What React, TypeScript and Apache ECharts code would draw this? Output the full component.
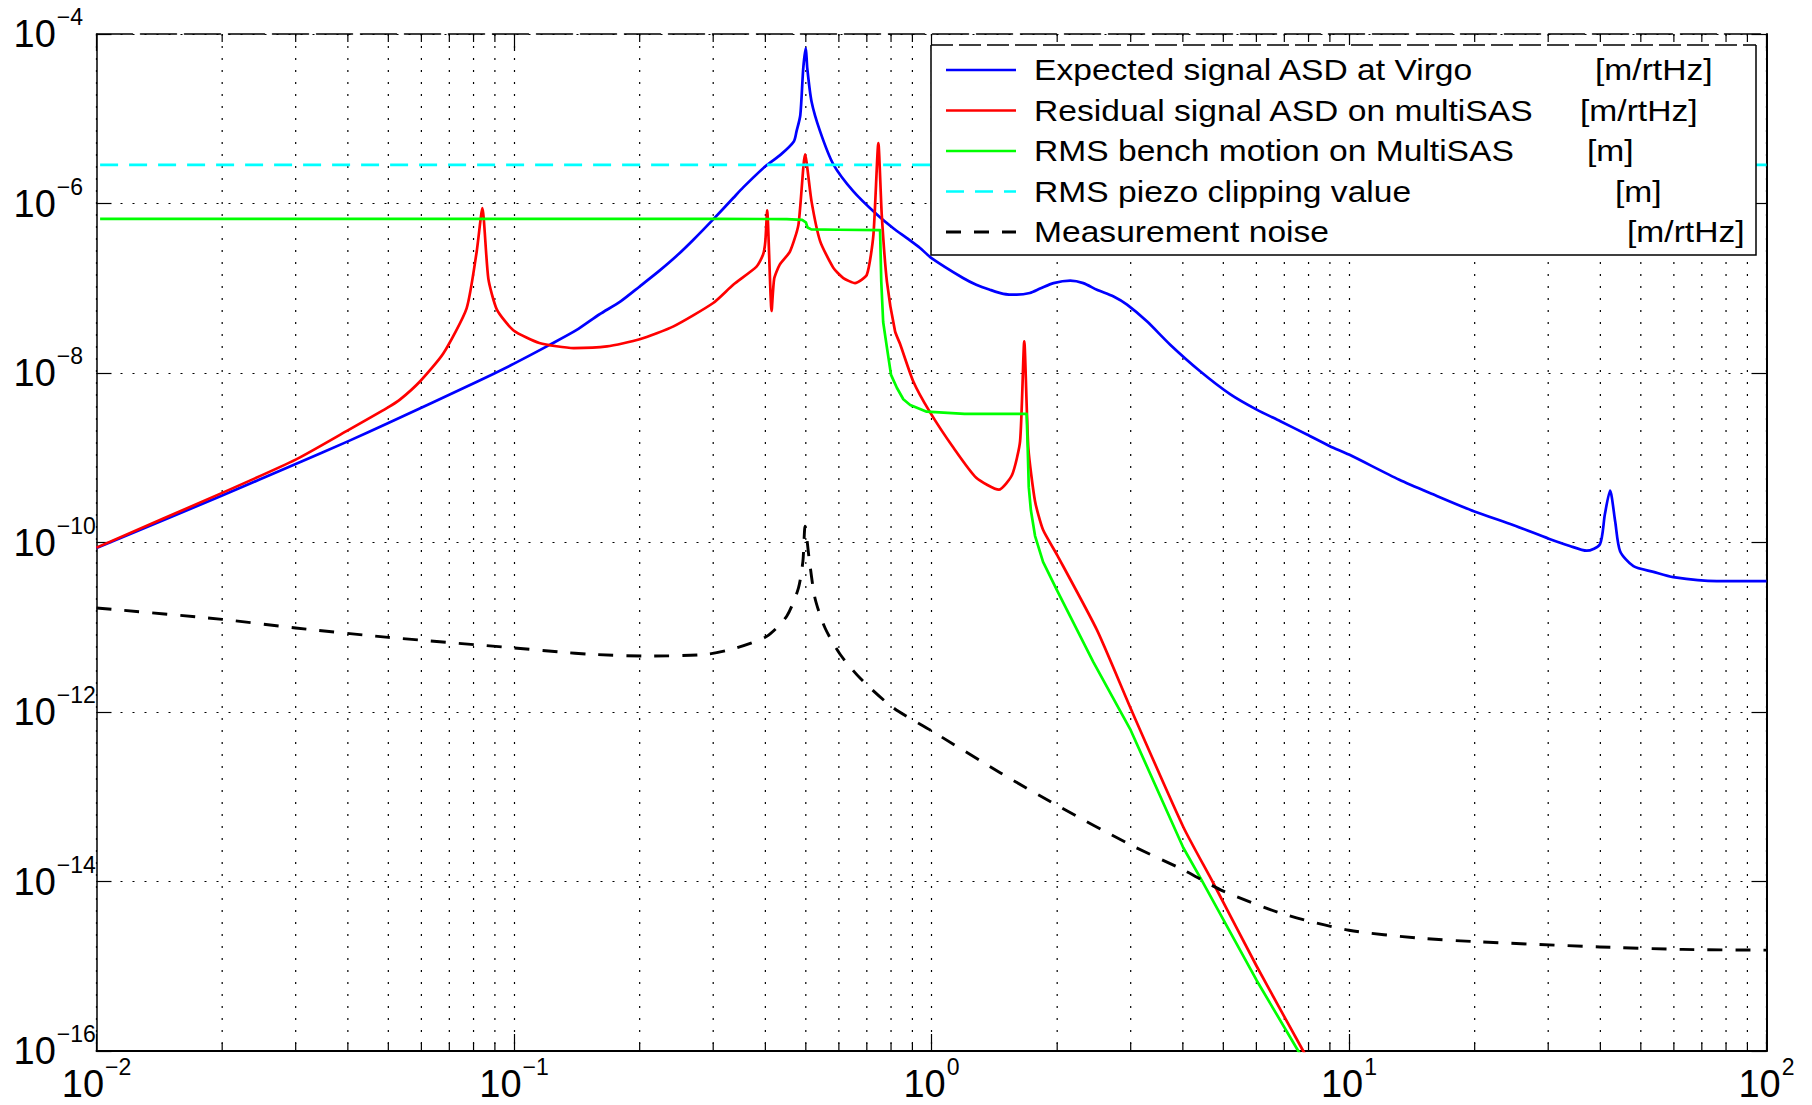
import React, { useEffect, useRef } from 'react';
import * as echarts from 'echarts';

// Expected signal ASD at Virgo [m/rtHz]
const expectedFreq = [
  0.01, 0.02, 0.03, 0.04, 0.05, 0.082, 0.1, 0.122, 0.141, 0.16, 0.18, 0.2, 0.222, 0.245, 0.269,
  0.3, 0.335, 0.354, 0.4, 0.436, 0.468, 0.475, 0.485, 0.493, 0.5, 0.504, 0.516, 0.541, 0.582,
  0.65, 0.74, 0.81, 0.873, 0.939, 1.0, 1.19, 1.28, 1.38, 1.486, 1.6, 1.72, 1.82, 1.96, 2.15,
  2.31, 2.49, 2.73, 2.94, 3.28, 3.73, 4.4, 5.2, 6.01, 6.85, 7.93, 9.0, 10, 13.2, 15.9, 19.9,
  24.8, 30.1, 33.8, 37.1, 39.9, 41.0, 42.2, 43.4, 44.6, 48, 53.6, 59.8, 76, 100,
];
const expectedAsd = [
  8.6e-11, 3.58e-10, 8.45e-10, 1.56e-9, 2.57e-9, 8.0e-9, 1.29e-8, 2.16e-8, 3.2e-8, 4.9e-8, 7.0e-8,
  1.05e-7, 1.58e-7, 2.4e-7, 3.74e-7, 6.5e-7, 1.16e-6, 1.55e-6, 2.75e-6, 3.8e-6, 5.4e-6, 7.1e-6,
  1.1e-5, 3.95e-5, 6.8e-5, 3.95e-5, 1.6e-5, 7.1e-6, 2.9e-6, 1.39e-6, 7.4e-7, 5.1e-7, 3.9e-7,
  2.98e-7, 2.27e-7, 1.32e-7, 1.1e-7, 9.6e-8, 8.6e-8, 8.4e-8, 8.8e-8, 9.9e-8, 1.15e-7, 1.23e-7,
  1.15e-7, 9.6e-8, 8.0e-8, 6.4e-8, 4.07e-8, 2.16e-8, 1.05e-8, 5.6e-9, 3.7e-9, 2.7e-9, 1.88e-9,
  1.37e-9, 1.09e-9, 5.5e-10, 3.7e-10, 2.34e-10, 1.6e-10, 1.11e-10, 9.1e-11, 8.0e-11, 9.5e-11,
  2.14e-10, 4.1e-10, 1.78e-10, 7.9e-11, 5.25e-11, 4.5e-11, 3.9e-11, 3.5e-11, 3.5e-11,
];

// Residual signal ASD on multiSAS [m/rtHz]
const residualFreq = [
  0.01, 0.02, 0.03, 0.0397, 0.0498, 0.0533, 0.0596, 0.0677, 0.077, 0.0814, 0.084, 0.0868, 0.091,
  0.0996, 0.115, 0.139, 0.167, 0.2, 0.241, 0.3, 0.335, 0.381, 0.395, 0.4, 0.404, 0.414, 0.42,
  0.433, 0.458, 0.48, 0.498, 0.516, 0.541, 0.582, 0.615, 0.656, 0.7, 0.726, 0.746, 0.76, 0.782,
  0.818, 0.841, 0.904, 0.99, 1.13, 1.28, 1.45, 1.56, 1.63, 1.668, 1.706, 1.77, 1.85, 2.0, 2.49,
  3.0, 4.01, 4.73, 6.01, 7.77, 8.5,
];
const residualAsd = [
  8.7e-11, 3.85e-10, 9.5e-10, 2.06e-9, 3.9e-9, 4.85e-9, 8.0e-9, 1.7e-8, 5.8e-8, 2.7e-7, 8.8e-7,
  1.3e-7, 5.6e-8, 3.2e-8, 2.26e-8, 1.97e-8, 2.06e-8, 2.5e-8, 3.55e-8, 6.7e-8, 1.1e-7, 1.8e-7,
  2.5e-7, 3.6e-7, 8.3e-7, 5.4e-8, 1.3e-7, 1.9e-7, 2.7e-7, 5.6e-7, 3.8e-6, 1.06e-6, 3.6e-7,
  1.74e-7, 1.32e-7, 1.15e-7, 1.44e-7, 4.3e-7, 5.15e-6, 7.4e-7, 1.2e-7, 3.1e-8, 2.2e-8, 8.0e-9,
  3.5e-9, 1.3e-9, 5.8e-10, 4.2e-10, 6.3e-10, 1.57e-9, 2.37e-8, 1.3e-9, 3.07e-10, 1.41e-10,
  7.1e-11, 9.3e-12, 1.1e-12, 4.4e-14, 9.6e-15, 1.0e-15, 1.0e-16, 4.5e-17,
];

// RMS bench motion on MultiSAS [m]
const benchFreq = [
  0.0102, 0.3, 0.45, 0.49, 0.5, 0.505, 0.515, 0.6, 0.753, 0.758, 0.766, 0.782, 0.8, 0.826, 0.856,
  0.889, 0.974, 1.2, 1.69, 1.7, 1.71, 1.73, 1.77, 1.85, 2.0, 2.44, 3.0, 4.01, 4.44, 6.01, 7.56, 8.5,
];
const benchRms = [
  6.6e-7, 6.6e-7, 6.55e-7, 6.4e-7, 6.0e-7, 5.2e-7, 4.95e-7, 4.9e-7, 4.85e-7, 1.2e-7, 4.0e-8,
  2.0e-8, 9.5e-9, 6.7e-9, 4.9e-9, 4.2e-9, 3.5e-9, 3.3e-9, 3.3e-9, 1.3e-9, 4.5e-10, 2.4e-10,
  1.2e-10, 5.9e-11, 2.7e-11, 3.9e-12, 6.1e-13, 2.5e-14, 1.03e-14, 6.8e-16, 1.0e-16, 3.5e-17,
];

// RMS piezo clipping value [m]
const clipFreq = [0.0102, 100];
const clipRms = [2.85e-6, 2.85e-6];

// Measurement noise [m/rtHz]
const noiseFreq = [
  0.01, 0.02, 0.03, 0.05, 0.1, 0.129, 0.152, 0.208, 0.29, 0.341, 0.403, 0.45, 0.48, 0.492, 0.498,
  0.509, 0.526, 0.556, 0.604, 0.675, 0.81, 1.0, 1.46, 2.0, 3.0, 4.0, 5.0, 7.0, 10, 14.7, 20.1,
  39.9, 63, 100,
];
const noiseAsd = [
  1.69e-11, 1.24e-11, 9.8e-12, 7.6e-12, 5.7e-12, 5.1e-12, 4.8e-12, 4.57e-12, 4.8e-12, 5.7e-12,
  7.8e-12, 1.35e-11, 2.9e-11, 6.0e-11, 1.56e-10, 6.6e-11, 2.2e-11, 9.8e-12, 4.8e-12, 2.5e-12,
  1.12e-12, 6.0e-13, 1.92e-13, 7.9e-14, 2.7e-14, 1.38e-14, 7.7e-15, 4.1e-15, 2.66e-15, 2.15e-15,
  1.95e-15, 1.69e-15, 1.58e-15, 1.55e-15,
];

const legendNames = [
  'Expected signal ASD at Virgo',
  'Residual signal ASD on multiSAS',
  'RMS bench motion on MultiSAS',
  'RMS piezo clipping value',
  'Measurement noise',
];
const legendUnits = ['[m/rtHz]', '[m/rtHz]', '[m]', '[m]', '[m/rtHz]'];

const xTickDecades = [0.01, 0.1, 1, 10];
const minorMultipliers = [2, 3, 4, 5, 6, 7, 8, 9];

const FONT = '"Liberation Sans", Arial, Helvetica, sans-serif';
const X_MIN = 0.01;
const X_MAX = 100;
const Y_MIN = 1e-16;
const Y_MAX = 1e-4;

const GRID = { left: 96.5, top: 34, width: 1670, height: 1017 };

const lineStyles = [
  { color: '#0000ff', type: 'solid' as any, width: 2.7, smooth: 0.25 },
  { color: '#ff0000', type: 'solid' as any, width: 2.7, smooth: 0.2 },
  { color: '#00ff00', type: 'solid' as any, width: 2.7, smooth: false as any },
  { color: '#00ffff', type: [18, 11] as any, width: 2.7, smooth: false as any },
  { color: '#000000', type: [15, 13] as any, width: 2.9, smooth: 0.25 },
];

const seriesData = [
  [expectedFreq, expectedAsd],
  [residualFreq, residualAsd],
  [benchFreq, benchRms],
  [clipFreq, clipRms],
  [noiseFreq, noiseAsd],
];

const DOTTED = [2, 10];

function toPairs(fs: number[], vs: number[]) {
  return fs.map((f, i) => [f, vs[i]]);
}

function powLabel(exp: number) {
  const e = exp < 0 ? '\u2212' + String(-exp) : String(exp);
  return `{b|10}{s|${e}}`;
}

// "10" with a raised exponent: the exponent token carries bottom padding so
// that its glyphs sit above the middle of the line.
const labelRich = {
  b: { fontSize: 38, lineHeight: 38, fontFamily: FONT, color: '#000' },
  s: { fontSize: 23, lineHeight: 4, padding: [0, 0, 34, 1], fontFamily: FONT, color: '#000' },
};

export default function App() {
  const ref = useRef<HTMLDivElement>(null);

  useEffect(() => {
    if (!ref.current) return;
    const chart = echarts.init(ref.current, null, { renderer: 'svg' });

    const minorFreqs: number[] = [];
    xTickDecades.forEach((d) => minorMultipliers.forEach((k) => minorFreqs.push(k * d)));

    const lineSeries = legendNames.map((name, i) => ({
      name,
      type: 'line',
      xAxisIndex: 0,
      yAxisIndex: 0,
      data: toPairs(seriesData[i][0], seriesData[i][1]),
      symbol: 'none',
      showSymbol: false,
      smooth: lineStyles[i].smooth,
      clip: true,
      silent: true,
      z: 3 + i,
      lineStyle: {
        color: lineStyles[i].color,
        width: lineStyles[i].width,
        type: lineStyles[i].type,
        cap: 'butt',
        join: 'round',
      },
    }));

    // Minor vertical grid lines with inner ticks on bottom and top edges
    const minorGrid = {
      type: 'custom',
      xAxisIndex: 0,
      yAxisIndex: 0,
      silent: true,
      z: 1,
      data: minorFreqs.map((f) => [f, 1e-10]),
      renderItem: (params: any, api: any) => {
        const f = api.value(0);
        const top = api.coord([f, Y_MAX]);
        const bot = api.coord([f, Y_MIN]);
        return {
          type: 'group',
          children: [
            {
              type: 'line',
              shape: { x1: top[0], y1: top[1], x2: bot[0], y2: bot[1] },
              style: { stroke: '#000', lineWidth: 1.2, lineDash: DOTTED },
            },
            {
              type: 'line',
              shape: { x1: bot[0], y1: bot[1], x2: bot[0], y2: bot[1] - 8 },
              style: { stroke: '#000', lineWidth: 1.2 },
            },
            {
              type: 'line',
              shape: { x1: top[0], y1: top[1], x2: top[0], y2: top[1] + 8 },
              style: { stroke: '#000', lineWidth: 1.2 },
            },
          ],
        };
      },
    };

    // Legend box
    const LX = 931;
    const LY = 45;
    const LW = 825;
    const LH = 210;
    const rowY = [70, 110.5, 151, 191.5, 232];
    const unitX = [1595, 1580, 1587, 1615, 1627];
    const legendFont = 30;
    const legendScaleX = 1.12;

    const legendElements: any[] = [
      {
        type: 'rect',
        shape: { x: LX, y: LY, width: LW, height: LH },
        style: { fill: '#fff', stroke: null },
        z: 50,
      },
      {
        type: 'polyline',
        shape: { points: [[LX, LY], [LX, LY + LH], [LX + LW, LY + LH], [LX + LW, LY]] },
        style: { stroke: '#000', lineWidth: 1.5, fill: null },
        z: 51,
      },
      {
        type: 'line',
        shape: { x1: LX, y1: LY, x2: LX + LW, y2: LY },
        style: { stroke: '#000', lineWidth: 1.5, lineDash: [22, 6] },
        z: 51,
      },
    ];
    legendNames.forEach((name, i) => {
      const ls = lineStyles[i];
      legendElements.push({
        type: 'line',
        shape: { x1: 946, y1: rowY[i], x2: 1016, y2: rowY[i] },
        style: {
          stroke: ls.color,
          lineWidth: ls.width,
          lineDash: Array.isArray(ls.type) ? ls.type : null,
        },
        z: 52,
      });
      legendElements.push({
        type: 'text',
        x: 1034,
        y: rowY[i],
        scaleX: legendScaleX,
        style: {
          text: name,
          fontSize: legendFont,
          fontFamily: FONT,
          fill: '#000',
          align: 'left',
          verticalAlign: 'middle',
        },
        z: 52,
      });
      legendElements.push({
        type: 'text',
        x: unitX[i],
        y: rowY[i],
        scaleX: legendScaleX,
        style: {
          text: legendUnits[i],
          fontSize: legendFont,
          fontFamily: FONT,
          fill: '#000',
          align: 'left',
          verticalAlign: 'middle',
        },
        z: 52,
      });
    });

    const option: any = {
      animation: false,
      backgroundColor: '#fff',
      grid: { ...GRID, containLabel: false, outerBoundsMode: 'none' },
      xAxis: [
        {
          type: 'log',
          logBase: 10,
          min: X_MIN,
          max: X_MAX,
          position: 'bottom',
          axisLine: { onZero: false, lineStyle: { color: '#000', width: 2 } },
          axisTick: { show: true, inside: true, length: 17, lineStyle: { color: '#000', width: 1.2 } },
          axisLabel: {
            margin: 14,
            formatter: (v: number) => powLabel(Math.round(Math.log10(v))),
            rich: labelRich,
          },
          splitLine: { show: true, lineStyle: { color: '#000', width: 1.2, type: DOTTED } },
          minorTick: { show: false },
        },
        {
          type: 'log',
          logBase: 10,
          min: X_MIN,
          max: X_MAX,
          position: 'top',
          axisLine: { onZero: false, lineStyle: { color: '#000', width: 1.5, type: [36, 8] } },
          axisTick: { show: true, inside: true, length: 17, lineStyle: { color: '#000', width: 1.2 } },
          axisLabel: { show: false },
          splitLine: { show: false },
        },
      ],
      yAxis: [
        {
          type: 'log',
          logBase: 10,
          min: Y_MIN,
          max: Y_MAX,
          position: 'left',
          axisLine: { show: true, onZero: false, lineStyle: { color: '#000', width: 1.5 } },
          axisTick: { show: false },
          axisLabel: { show: false },
          splitLine: { show: false },
        },
        {
          type: 'value',
          min: -16,
          max: -4,
          interval: 2,
          position: 'left',
          axisLine: { show: false, onZero: false },
          axisTick: { show: true, inside: true, length: 15, lineStyle: { color: '#000', width: 1.2 } },
          axisLabel: {
            align: 'left',
            margin: 83,
            formatter: (v: number) => powLabel(Math.round(v)),
            rich: labelRich,
          },
          splitLine: { show: true, lineStyle: { color: '#000', width: 1.2, type: DOTTED } },
        },
        {
          type: 'value',
          min: -16,
          max: -4,
          interval: 2,
          position: 'right',
          axisLine: { show: true, onZero: false, lineStyle: { color: '#000', width: 2 } },
          axisTick: { show: true, inside: true, length: 15, lineStyle: { color: '#000', width: 1.2 } },
          axisLabel: { show: false },
          splitLine: { show: false },
        },
      ],
      series: [minorGrid, ...lineSeries],
      graphic: { elements: legendElements },
    };

    chart.setOption(option);
    return () => chart.dispose();
  }, []);

  return (
    <div
      ref={ref}
      style={{ position: 'absolute', left: 0, top: 0, width: 1812, height: 1105, background: '#fff' }}
    />
  );
}
